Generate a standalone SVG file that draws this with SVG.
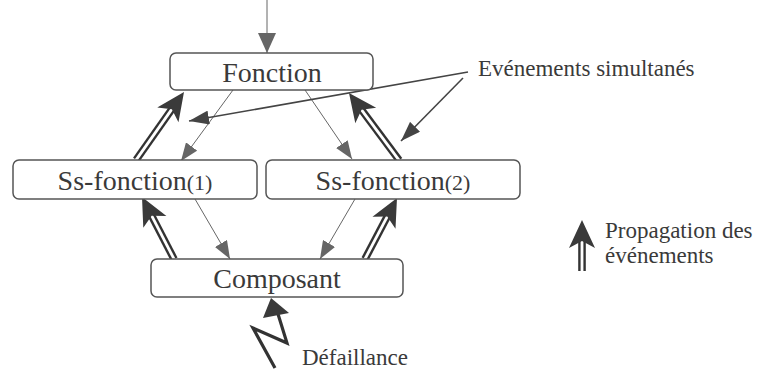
<svg xmlns="http://www.w3.org/2000/svg" width="760" height="372" viewBox="0 0 760 372">
<style>
.box{fill:#fff;stroke:#555;stroke-width:1.5}
.t{font-family:"Liberation Serif","Times New Roman",serif;fill:#3a3a3a}
.big{font-size:28px}
.sm{font-size:23px}
.thin{stroke:#666;stroke-width:1;fill:none}
.ptr{stroke:#444;stroke-width:1.6;fill:none}
.dbl{stroke:#333;stroke-width:2.4;fill:none}
.hd{fill:#3a3a3a}
</style>
<defs>
<marker id="ah" markerUnits="userSpaceOnUse" markerWidth="18" markerHeight="14" refX="18" refY="7" orient="auto">
<path d="M0,0 L18,7 L0,14 Z" fill="#666"/>
</marker>
<marker id="ahL" markerUnits="userSpaceOnUse" markerWidth="20" markerHeight="18" refX="20" refY="9" orient="auto">
<path d="M0,0 L20,9 L0,18 Z" fill="#666"/>
</marker>
<marker id="ahD" markerUnits="userSpaceOnUse" markerWidth="20" markerHeight="14" refX="20" refY="7" orient="auto">
<path d="M0,0 L20,7 L0,14 Z" fill="#444"/>
</marker>
<path id="bh" d="M0,0 L-28,-13 L-21,0 L-28,13 Z"/>
</defs>

<g id="connectors">
<line class="thin" x1="267" y1="0" x2="267" y2="53" marker-end="url(#ahL)"/>
<line class="thin" x1="233" y1="90" x2="181" y2="161" marker-end="url(#ah)"/>
<line class="thin" x1="305" y1="90" x2="352" y2="159" marker-end="url(#ah)"/>
<line class="thin" x1="195" y1="199" x2="230" y2="259" marker-end="url(#ah)"/>
<line class="thin" x1="355" y1="199" x2="320" y2="259" marker-end="url(#ah)"/>
<g transform="translate(142,197) rotate(-117.3)">
<line class="dbl" x1="-70" y1="-2.6" x2="-21" y2="-2.6"/><line class="dbl" x1="-70" y1="2.6" x2="-21" y2="2.6"/><use href="#bh" class="hd"/>
</g>
<g transform="translate(397,198) rotate(-62.3)">
<line class="dbl" x1="-69" y1="-2.6" x2="-21" y2="-2.6"/><line class="dbl" x1="-69" y1="2.6" x2="-21" y2="2.6"/><use href="#bh" class="hd"/>
</g>
<g transform="translate(184,92) rotate(-54.8)">
<line class="dbl" x1="-83" y1="-2.6" x2="-21" y2="-2.6"/><line class="dbl" x1="-83" y1="2.6" x2="-21" y2="2.6"/><use href="#bh" class="hd"/>
</g>
<g transform="translate(349,93) rotate(-126.7)">
<line class="dbl" x1="-84" y1="-2.6" x2="-21" y2="-2.6"/><line class="dbl" x1="-84" y1="2.6" x2="-21" y2="2.6"/><use href="#bh" class="hd"/>
</g>
<line class="ptr" x1="468" y1="72" x2="189" y2="121" marker-end="url(#ahD)"/>
<line class="ptr" x1="463" y1="78" x2="401" y2="141" marker-end="url(#ahD)"/>
<polyline points="275,368 253,328 287,343 278,314" fill="none" stroke="#333" stroke-width="3.2" stroke-linejoin="miter"/>
<polygon points="271,298 263,318 289,313" fill="#3a3a3a"/>
</g>

<g id="fonction">
<rect class="box" x="170" y="53" width="203" height="37" rx="6"/>
<text class="t big" x="272" y="82" text-anchor="middle">Fonction</text>
</g>
<g id="ssfonction1">
<rect class="box" x="13" y="160" width="244" height="39" rx="6"/>
<text class="t big" x="135" y="190" text-anchor="middle">Ss-fonction<tspan font-size="22">(1)</tspan></text>
</g>
<g id="ssfonction2">
<rect class="box" x="266" y="160" width="254" height="39" rx="6"/>
<text class="t big" x="393" y="190" text-anchor="middle">Ss-fonction<tspan font-size="22">(2)</tspan></text>
</g>
<g id="composant">
<rect class="box" x="151" y="259" width="252" height="38" rx="6"/>
<text class="t big" x="277" y="288" text-anchor="middle">Composant</text>
</g>

<g id="labels">
<text class="t sm" x="478" y="76">Evénements simultanés</text>
<text class="t sm" x="302" y="365">Défaillance</text>
</g>

<g id="legend">
<g transform="translate(582,220) rotate(-90)">
<line class="dbl" x1="-51" y1="-2.6" x2="-21" y2="-2.6"/><line class="dbl" x1="-51" y1="2.6" x2="-21" y2="2.6"/><use href="#bh" class="hd"/>
</g>
<text class="t sm" x="605" y="238">Propagation des</text>
<text class="t sm" x="605" y="263">événements</text>
</g>
</svg>
